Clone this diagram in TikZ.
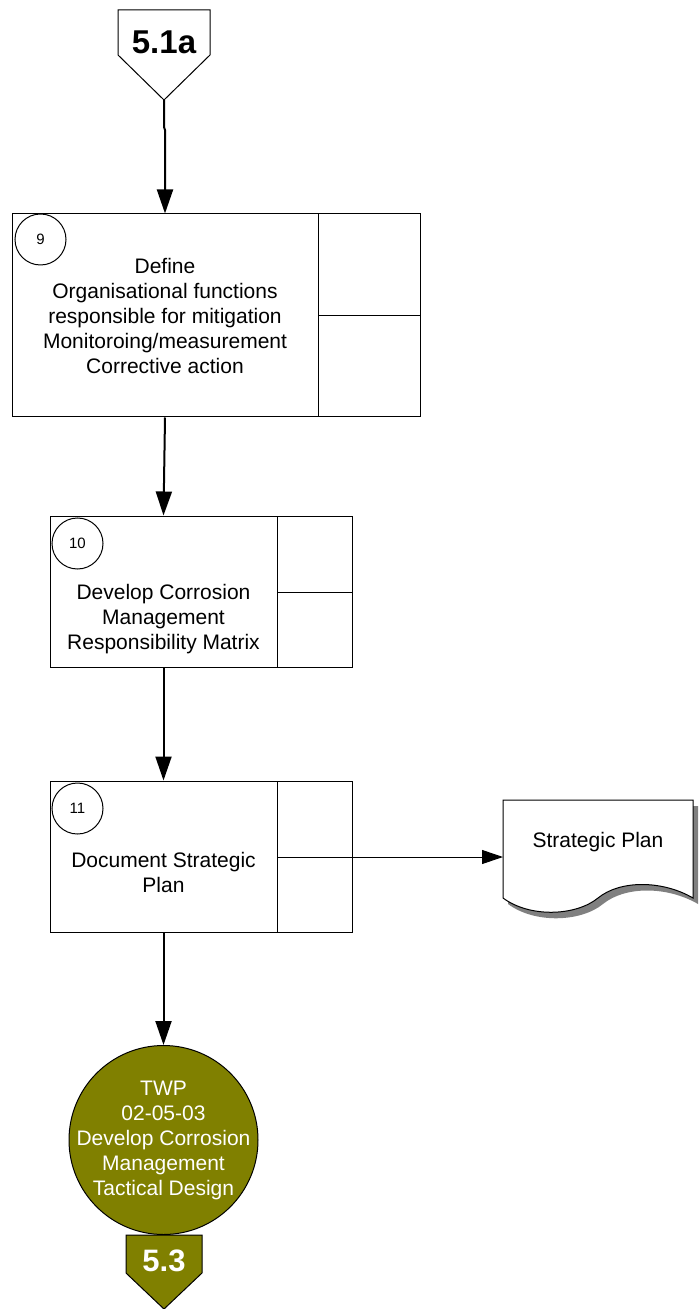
\documentclass[tikz,border=0pt]{standalone}
\usepackage{fontspec}
\setmainfont{Liberation Sans}
\usetikzlibrary{arrows.meta,positioning,shapes.geometric}
\definecolor{twpolive}{RGB}{128,128,0}
\definecolor{shadowgray}{RGB}{128,128,128}
\tikzset{>={Triangle[length=12pt,width=8pt]}}
\tikzset{
    task/.style={draw,rectangle,line width=0.5pt,inner sep=0pt},
    taskno/.style={draw,circle,line width=0.5pt,minimum size=25.5pt,inner sep=0pt,
        font=\fontsize{7.5}{9}\selectfont},
    tasktext/.style={align=center,font=\fontsize{10.5}{12.5}\selectfont},
    offpage/.style={draw,line width=0.5pt},
    flow/.style={->,line width=1pt}
}

\begin{document}
\begin{tikzpicture}[x=0.5pt,y=-0.5pt]
    \useasboundingbox (0,0) rectangle (698,1309);
    % off-page reference in
    \draw[offpage,fill=white] (118,10) -- (210,10) -- (210,55) -- (164,100) -- (118,55) -- cycle;
    \coordinate (in51a) at (164,100);
    \node[font=\bfseries\fontsize{16.5}{18}\selectfont] (l51a) at (164,42) {5.1a};
    % task 9
    \node[task,minimum width=153pt,minimum height=101.5pt,
        label={[tasktext]center:{Define\\Organisational functions\\responsible for mitigation\\Monitoroing/measurement\\Corrective action}}]
        (b9) at (165,315.5) {};
    \node[task,minimum width=51pt,minimum height=51pt] (b9r1) at (369,265) {};
    \node[task,minimum width=51pt,minimum height=50.5pt] (b9r2) at (369,366.5) {};
    \node[taskno] (n9) at (40.5,239.5) {9};
    % task 10
    \node[task,minimum width=113.5pt,minimum height=75.5pt,
        label={[tasktext,yshift=-14pt]center:{Develop Corrosion\\Management\\Responsibility Matrix}}]
        (b10) at (163.5,591.5) {};
    \node[task,minimum width=37.5pt,minimum height=38pt] (b10r1) at (314.5,554) {};
    \node[task,minimum width=37.5pt,minimum height=37.5pt] (b10r2) at (314.5,629.5) {};
    \node[taskno] (n10) at (77.5,543.5) {10};
    % task 11
    \node[task,minimum width=113.5pt,minimum height=75.5pt,
        label={[tasktext,yshift=-8pt]center:{Document Strategic\\Plan}}]
        (b11) at (163.5,856.5) {};
    \node[task,minimum width=37.5pt,minimum height=38pt] (b11r1) at (314.5,819) {};
    \node[task,minimum width=37.5pt,minimum height=37.5pt] (b11r2) at (314.5,894.5) {};
    \node[taskno] (n11) at (77.5,808.5) {11};
    % output document
    \begin{scope}[shift={(5,6)}]
        \fill[shadowgray] (503,800) -- (693,800) -- (693,898)
            .. controls (662,880) and (620,880) .. (598,898)
            .. controls (576,916) and (530,918) .. (503,898) -- cycle;
    \end{scope}
    \filldraw[fill=white,line width=0.5pt] (503,800) -- (693,800) -- (693,898)
        .. controls (662,880) and (620,880) .. (598,898)
        .. controls (576,916) and (530,918) .. (503,898) -- cycle;
    \node[minimum width=95pt,minimum height=49pt,inner sep=0pt,
        label={[tasktext,yshift=3.5pt]center:Strategic Plan}] (doc) at (598,849) {};
    \coordinate (docin) at (503,857);
    % next work package
    \node[circle,draw,fill=twpolive,line width=0.5pt,minimum size=94.5pt,inner sep=0pt,
        label={[tasktext,text=white]center:{TWP\\02-05-03\\Develop Corrosion\\Management\\Tactical Design}}]
        (twp) at (163.5,1140) {};
    % off-page reference out
    \filldraw[offpage,fill=twpolive] (126,1235) -- (202,1235) -- (202,1273) -- (164,1309) -- (126,1273) -- cycle;
    \node[font=\bfseries\fontsize{15.5}{18}\selectfont,text=white] (l53) at (164,1261) {5.3};
    % connectors
    \draw[flow] (in51a) -- ++(0,27) -- ++(1,3) -- (b9.north);
    \draw[flow] (b9.south) -- (b10.north);
    \draw[flow] (b10.south) -- (b11.north);
    \draw[flow] (b11.south) -- (twp.north);
    \draw[->,line width=0.5pt,>={Triangle[length=10.5pt,width=7pt]}] (b11.east |- docin) -- (docin);
\end{tikzpicture}
\end{document}
